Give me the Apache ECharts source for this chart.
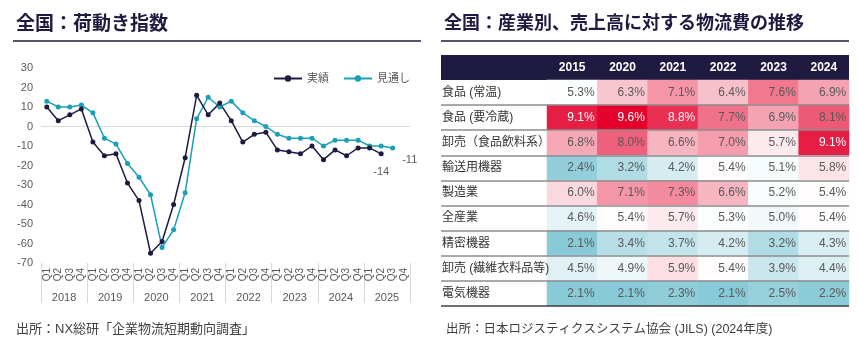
<!DOCTYPE html>
<html><head><meta charset="utf-8">
<script src="https://cdn.jsdelivr.net/npm/echarts@6/dist/echarts.min.js"></script>
<style>html,body{margin:0;padding:0;background:#fff}#c{width:859px;height:348px}</style>
</head><body><div id="c"></div>
<script>
// ---- Left chart data ----
const quarters = [];
const years = ['2018','2019','2020','2021','2022','2023','2024','2025'];
years.forEach(()=>['Q1','Q2','Q3','Q4'].forEach(q=>quarters.push(q)));
const actual = [10,3,6,9,-8,-15,-14,-29,-38,-65,-59,-40,-16,16,6,12,3,-8,-4,-3,-12,-13,-14,-10,-17,-12,-15,-11,-11,-14,null,null];
const outlook = [13,10,10,11,7,-6,-9,-19,-26,-35,-62,-53,-34,4,15,10,13,7,3,0,-4,-6,-6,-6,-10,-7,-7,-7,-10,-10,-11,null];
const yTicks = {min:-70, max:30, interval:10};

// ---- Right table data ----
const tableYears = ['2015','2020','2021','2022','2023','2024'];
const industries = ['食品 (常温)','食品 (要冷蔵)','卸売（食品飲料系）','輸送用機器','製造業','全産業','精密機器','卸売 (繊維衣料品等)','電気機器'];
const rowFoodAmbient = [5.3,6.3,7.1,6.4,7.6,6.9];
const rowFoodChilled = [9.1,9.6,8.8,7.7,6.9,8.1];
const rowWholesaleFood = [6.8,8.0,6.6,7.0,5.7,9.1];
const rowTransport = [2.4,3.2,4.2,5.4,5.1,5.8];
const rowManufacturing = [6.0,7.1,7.3,6.6,5.2,5.4];
const rowAll = [4.6,5.4,5.7,5.3,5.0,5.4];
const rowPrecision = [2.1,3.4,3.7,4.2,3.2,4.3];
const rowWholesaleTextile = [4.5,4.9,5.9,5.4,3.9,4.4];
const rowElectric = [2.1,2.1,2.3,2.1,2.5,2.2];
const tableRows = [rowFoodAmbient,rowFoodChilled,rowWholesaleFood,rowTransport,rowManufacturing,rowAll,rowPrecision,rowWholesaleTextile,rowElectric];

const allVals = tableRows.flat();
const vMin = Math.min(...allVals), vMax = Math.max(...allVals), vMid = 5.35;
function mix(a,b,t){return 'rgb('+a.map((x,i)=>Math.round(x+(b[i]-x)*t)).join(',')+')';}
function cellColor(v){
  const W=[255,255,255], R=[228,0,43], B=[136,202,215];
  if(v>=vMid) return mix(W,R,(v-vMid)/(vMax-vMid));
  return mix(W,B,(vMid-v)/(vMid-vMin));
}
const heatData = [];
tableRows.forEach((row,r)=>row.forEach((v,c)=>{
  heatData.push({value:[c,r,v], itemStyle:{color:cellColor(v)},
    label:{color: v>=8.5 ? '#ffffff' : '#595959'}});
}));

const FONT = "'Liberation Sans','Noto Sans CJK JP',sans-serif";
const CJK = "'Noto Sans CJK JP',sans-serif";
const NAVY = '#1e1a40';
const TEAL = '#1a9fb5';
const GRAY = '#595959';

const chart = echarts.init(document.getElementById('c'), null, {renderer:'canvas'});
const lineColors = ['rgba(0,0,0,0)'];
for(let i=1;i<industries.length;i++) lineColors.push('#8c8c8c');
lineColors.push('#404040');

chart.setOption({
  animation:false,
  title:[
    {text:'全国：荷動き指数', left:11, top:8, textStyle:{fontFamily:CJK, fontSize:19, fontWeight:'bold', color:NAVY}},
    {text:'全国：産業別、売上高に対する物流費の推移', left:439, top:8, textStyle:{fontFamily:CJK, fontSize:18, fontWeight:'bold', color:NAVY}},
    {text:'出所：NX総研「企業物流短期動向調査」', left:11, top:318, textStyle:{fontFamily:FONT, fontSize:13, fontWeight:'normal', color:'#404040'}},
    {text:'出所：日本ロジスティクスシステム協会 (JILS) (2024年度)', left:441, top:318, textStyle:{fontFamily:FONT, fontSize:12.5, fontWeight:'normal', color:'#404040'}}
  ],
  graphic:[
    {type:'line', shape:{x1:13,y1:41,x2:421,y2:41}, style:{stroke:NAVY, lineWidth:1.5}, silent:true},
    {type:'line', shape:{x1:441,y1:41,x2:849,y2:41}, style:{stroke:NAVY, lineWidth:1.5}, silent:true},
    {type:'rect', shape:{x:441,y:55,width:408,height:25}, style:{fill:NAVY}, silent:true, z:-1}
  ],
  legend:{
    data:['実績','見通し'], left:268, top:68, itemWidth:28, itemHeight:8, itemGap:14,
    textStyle:{fontFamily:FONT, fontSize:11, color:GRAY}
  },
  grid:[
    {left:41, right:449, top:68, bottom:85},
    {left:547, right:10, top:80, height:226},
    {left:441, right:10, top:80, height:226}
  ],
  xAxis:[
    {type:'category', gridIndex:0, data:quarters, boundaryGap:true,
     axisLine:{show:false}, axisTick:{show:false},
     axisLabel:{interval:0, rotate:90, fontSize:10, color:GRAY, fontFamily:FONT, margin:5}},
    {type:'category', gridIndex:0, data:years, position:'bottom', offset:0, boundaryGap:true,
     axisLine:{show:true, lineStyle:{color:'rgba(0,0,0,0)'}},
     axisTick:{show:true, interval:0, length:40, lineStyle:{color:'#d9d9d9', width:1}},
     axisLabel:{fontSize:11, color:GRAY, fontFamily:FONT, margin:29}},
    {type:'category', gridIndex:1, data:tableYears, position:'top',
     axisLine:{show:false}, axisTick:{show:false},
     axisLabel:{fontSize:12, fontWeight:'bold', color:'#ffffff', fontFamily:FONT, margin:6}},
    {type:'value', gridIndex:2, min:0, max:1, show:false}
  ],
  yAxis:[
    {type:'value', gridIndex:0, min:yTicks.min, max:yTicks.max, interval:yTicks.interval,
     axisLine:{show:false}, axisTick:{show:false}, splitLine:{show:false},
     axisLabel:{fontSize:11, color:GRAY, fontFamily:FONT, margin:8}},
    {type:'category', gridIndex:1, data:industries, inverse:true, show:false},
    {type:'category', gridIndex:2, data:industries, inverse:true, z:10,
     axisLine:{show:false}, axisTick:{show:false},
     axisLabel:{inside:true, margin:1, fontSize:12, color:'#333333', fontFamily:FONT},
     splitLine:{show:true, lineStyle:{color:lineColors, width:1.5}}}
  ],
  series:[
    {name:'見通し', type:'line', xAxisIndex:0, yAxisIndex:0,
     data: outlook.map((v,i)=> i===30 ? {value:v, label:{show:true, position:'right', offset:[2,12], formatter:'{c}', fontSize:11, color:GRAY, fontFamily:FONT}} : v),
     symbol:'circle', symbolSize:5, color:TEAL, lineStyle:{width:1.5, color:TEAL},
     markLine:{silent:true, symbol:'none', label:{show:false}, lineStyle:{color:'#d9d9d9', width:1, type:'solid'}, data:[{yAxis:0}], z:1}},
    {name:'実績', type:'line', xAxisIndex:0, yAxisIndex:0,
     data: actual.map((v,i)=> i===29 ? {value:v, label:{show:true, position:'bottom', distance:10, formatter:'{c}', fontSize:11, color:GRAY, fontFamily:FONT}} : v),
     symbol:'circle', symbolSize:5, color:NAVY, lineStyle:{width:1.5, color:NAVY}},
    {type:'heatmap', xAxisIndex:2, yAxisIndex:1, data:heatData,
     label:{show:true, position:'insideRight', distance:3, fontSize:12, fontFamily:FONT,
       formatter:p=>p.value[2].toFixed(1)+'%'},
     emphasis:{disabled:true}}
  ]
});
</script></body></html>
